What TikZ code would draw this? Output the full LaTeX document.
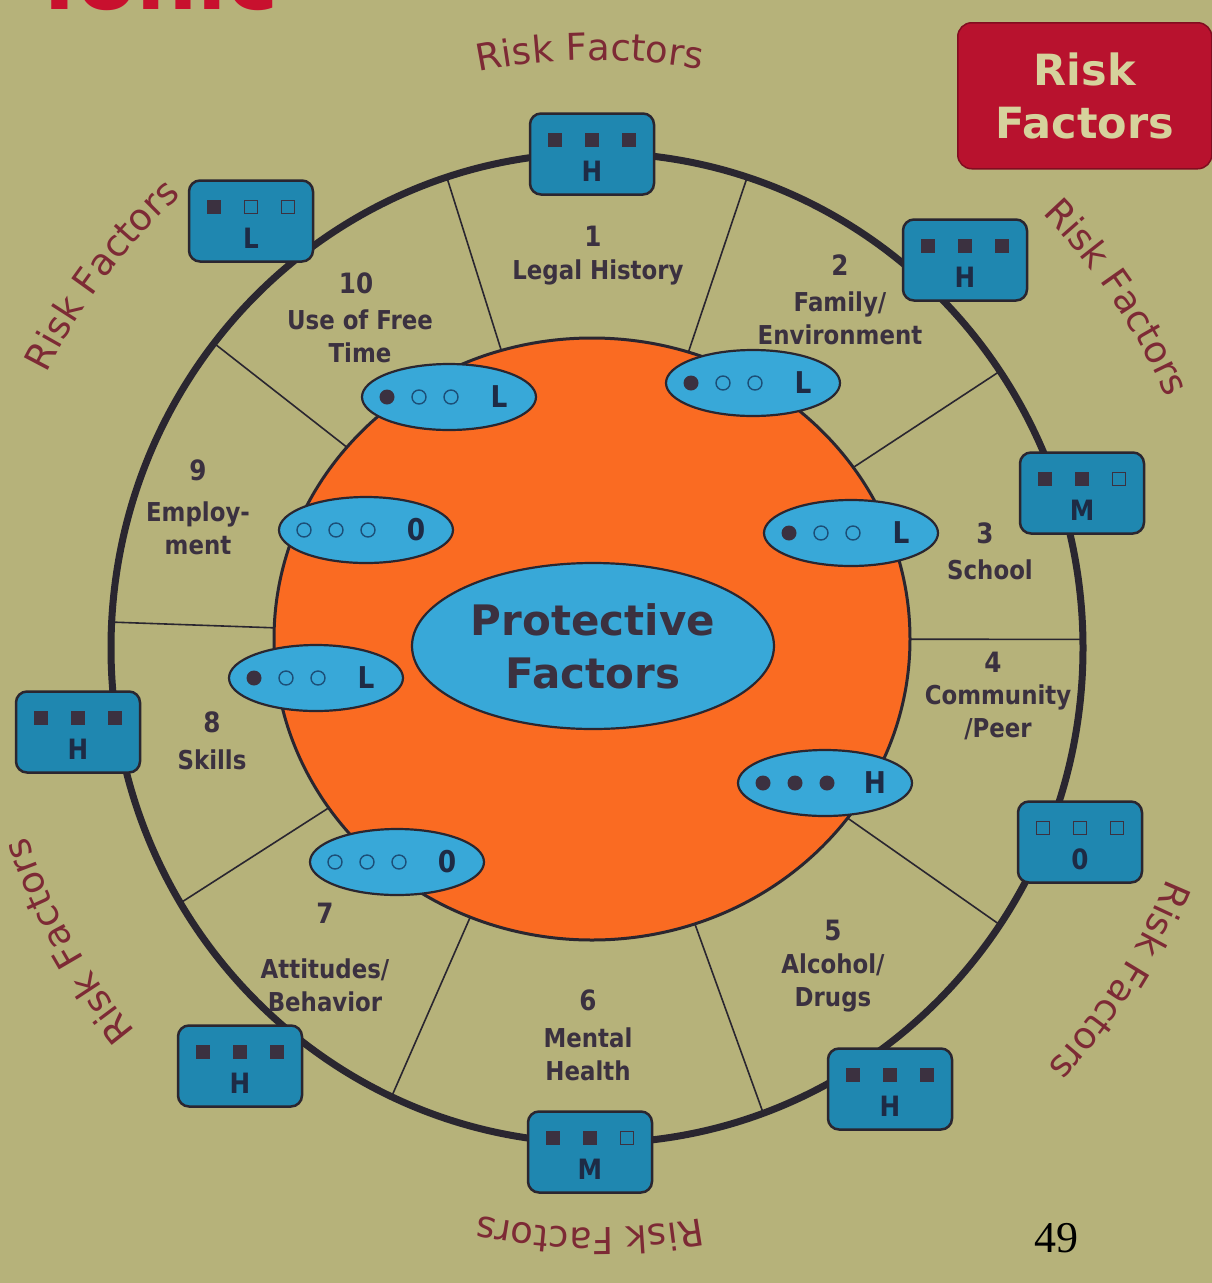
\documentclass[tikz,border=0pt]{standalone}
\usepackage{fontspec}
\setmainfont{DejaVu Sans}
\newfontfamily\labf[FakeStretch=0.88]{DejaVu Sans}
\newfontfamily\serf{Liberation Serif}
\usetikzlibrary{shapes.geometric,decorations.text}
\definecolor{bg}{HTML}{B6B27A}
\definecolor{outl}{HTML}{2A2630}
\definecolor{orng}{HTML}{FA6B22}
\definecolor{lblue}{HTML}{38A8D8}
\definecolor{boxblue}{HTML}{1F87B0}
\definecolor{txt}{HTML}{3B3140}
\definecolor{navy}{HTML}{1E2B45}
\definecolor{rfc}{HTML}{7D2A35}
\definecolor{redbox}{HTML}{B8122E}
\definecolor{redtxt}{HTML}{D6D29C}
\definecolor{title}{HTML}{C8102E}
\definecolor{opend}{HTML}{1C4F78}
\newcommand\lab{\labf\bfseries\fontsize{26}{33}\selectfont}
\newcommand\numf{\labf\bfseries\fontsize{28}{30}\selectfont}
\newcommand\rft{\fontsize{37}{40}\selectfont\color{rfc}}
\tikzset{
  riskbox/.style={rectangle, rounded corners=11, draw=outl, line width=2.5, fill=boxblue, minimum width=124, minimum height=81, inner sep=0},
  sqf/.style={rectangle, fill=txt, minimum size=14, inner sep=0},
  sqo/.style={rectangle, draw=txt, line width=1.5, minimum size=13, inner sep=0},
  boxlet/.style={font=\labf\bfseries\fontsize{28}{30}\selectfont, text=navy, inner sep=0},
  pfell/.style={ellipse, draw=outl, line width=2.2, fill=lblue, minimum width=174, minimum height=66, inner sep=0},
  dotf/.style={circle, fill=txt, minimum size=15, inner sep=0},
  doto/.style={circle, draw=opend, line width=1.4, minimum size=14, inner sep=0},
  elet/.style={font=\labf\bfseries\fontsize{30}{32}\selectfont, text=navy, inner sep=0},
  seclab/.style={font=\lab, text=txt, align=center, inner sep=0},
  secnum/.style={font=\numf, text=txt, inner sep=0},
  spoke/.style={draw=outl, line width=1.6},
  rfpath/.style={decorate, decoration={text along path, text align=center, text={|\rft|Risk Factors}}}
}
\newcommand\rbox[6]{%
  \node[riskbox] (#1) at (#2) {};
  \node[sq#3] (#1s1) at ([shift={(-37,14)}]#1.center) {};
  \node[sq#4] (#1s2) at ([shift={(0,14)}]#1.center) {};
  \node[sq#5] (#1s3) at ([shift={(37,14)}]#1.center) {};
  \node[boxlet] (#1l) at ([shift={(0,-17)}]#1.center) {#6};}
\newcommand\pfe[6]{%
  \node[pfell] (#1) at (#2) {};
  \node[dot#3] (#1d1) at ([shift={(-62,0)}]#1.center) {};
  \node[dot#4] (#1d2) at ([shift={(-30,0)}]#1.center) {};
  \node[dot#5] (#1d3) at ([shift={(2,0)}]#1.center) {};
  \node[elet] (#1l) at ([shift={(50,0)}]#1.center) {#6};}
\newcommand\rfarc[2]{%
  \path[rfpath] ([shift={(#1+17:#2)}]597,-648) arc[start angle=#1+17, end angle=#1-17, radius=#2];}
\begin{document}
\begin{tikzpicture}[x=1pt,y=1pt]
\useasboundingbox (0,0) rectangle (1212,-1283);
\fill[bg] (0,0) rectangle (1212,-1283);
\begin{scope}
\clip (0,0) rectangle (1212,-1283);
\node[anchor=base west, font=\bfseries\fontsize{86}{90}\selectfont, text=title, inner sep=0] (ttl) at (30,-9) {Tonic};
\end{scope}
% spokes
\foreach \a in {108,72,34,1,-34,-70,-115,-149,177,142}
  \draw[spoke] (592,-639) -- ([shift={(\a:486 and 495)}]597,-648);
% outer ring
\draw[line width=7, draw=outl] (597,-648) ellipse [x radius=486, y radius=495];
% orange disc
\draw[fill=orng, draw=outl, line width=3] (592,-639) ellipse [x radius=318, y radius=301];
% protective factors
\node[ellipse, draw=outl, line width=2.2, fill=lblue, minimum width=362, minimum height=166, inner sep=0,
      font=\bfseries\fontsize{42}{53}\selectfont, text=txt, align=center] (pf) at (593,-646) {Protective\\Factors};
% small ellipses
\pfe{e10}{449,-397}{f}{o}{o}{L}
\pfe{e2}{753,-383}{f}{o}{o}{L}
\pfe{e3}{851,-533}{f}{o}{o}{L}
\pfe{e4}{825,-783}{f}{f}{f}{H}
\pfe{e7}{397,-862}{o}{o}{o}{0}
\pfe{e8}{316,-678}{f}{o}{o}{L}
\pfe{e9}{366,-530}{o}{o}{o}{0}
% risk boxes
\rbox{bA}{592,-154}{f}{f}{f}{H}
\rbox{bB}{965,-260}{f}{f}{f}{H}
\rbox{bC}{1082,-493}{f}{f}{o}{M}
\rbox{bD}{1080,-842}{o}{o}{o}{0}
\rbox{bE}{890,-1089}{f}{f}{f}{H}
\rbox{bF}{590,-1152}{f}{f}{o}{M}
\rbox{bG}{240,-1066}{f}{f}{f}{H}
\rbox{bH}{78,-732}{f}{f}{f}{H}
\rbox{bI}{251,-221}{f}{o}{o}{L}
% section labels
\node[secnum] (n1) at (593,-236) {1};
\node[seclab] (t1) at (598,-272) {Legal History};
\node[secnum] (n2) at (840,-265) {2};
\node[seclab] (t2) at (840,-318) {Family/\\Environment};
\node[secnum] (n3) at (985,-533) {3};
\node[seclab] (t3) at (990,-570) {School};
\node[secnum] (n4) at (993,-662) {4};
\node[seclab] (t4) at (998,-712) {Community\\/Peer};
\node[secnum] (n5) at (833,-930) {5};
\node[seclab] (t5) at (833,-983) {Alcohol/\\Drugs};
\node[secnum] (n6) at (588,-1000) {6};
\node[seclab] (t6) at (588,-1054) {Mental\\Health};
\node[secnum] (n7) at (325,-913) {7};
\node[seclab] (t7) at (325,-985) {Attitudes/\\Behavior};
\node[secnum] (n8) at (212,-722) {8};
\node[seclab] (t8) at (212,-760) {Skills};
\node[secnum] (n9) at (198,-470) {9};
\node[seclab] (t9) at (198,-528) {Employ-\\ment};
\node[secnum] (n10) at (356,-283) {10};
\node[seclab] (t10) at (360,-336) {Use of Free\\Time};
% curved risk factors labels
\rfarc{90.7}{588}
\rfarc{34}{622}
\rfarc{-32.5}{615}
\rfarc{-90.7}{580}
\rfarc{-151}{600}
\rfarc{143}{615}
% red legend box
\node[rectangle, rounded corners=14, fill=redbox, draw=redbox!70!black, line width=1.5,
      minimum width=254, minimum height=146, inner sep=0, anchor=north west,
      font=\bfseries\fontsize{43}{53}\selectfont, text=redtxt, align=center] (leg) at (957,-22) {Risk\\Factors};
% page number
\node[font=\serf\fontsize{44}{44}\selectfont, text=black, inner sep=0] (pg) at (1056,-1238) {49};
\end{tikzpicture}
\end{document}
